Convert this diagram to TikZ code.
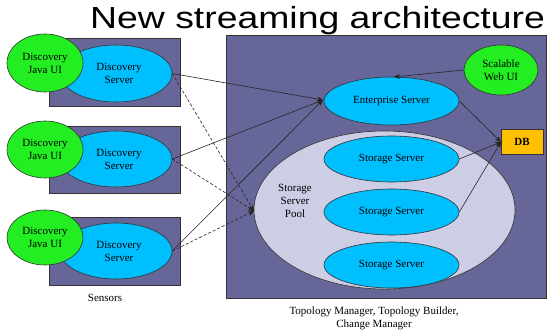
\documentclass[tikz,border=0pt]{standalone}
\usepackage{fontspec}
\setmainfont{Liberation Serif}
\newfontfamily\titlefont{Liberation Sans}
\usetikzlibrary{shapes.geometric,arrows.meta}
\definecolor{boxpurple}{HTML}{666699}
\definecolor{uigreen}{HTML}{22EE22}
\definecolor{srvblue}{HTML}{00BFFF}
\definecolor{poolgray}{HTML}{CDCDE6}
\definecolor{dborange}{HTML}{FFC000}
\tikzset{
  sensorbox/.style={draw=black!80, fill=boxpurple, line width=0.6pt},
  uiell/.style={ellipse, draw=black!80, fill=uigreen, inner sep=0pt, line width=0.6pt, align=center, font=\fontsize{11}{13}\selectfont},
  srvell/.style={ellipse, draw=black!80, fill=srvblue, inner sep=0pt, line width=0.6pt, align=center, font=\fontsize{11}{13}\selectfont},
  conn/.style={draw=black!85, line width=0.6pt, -{Stealth[length=6pt,width=5pt]}},
  dconn/.style={conn, dashed, dash pattern=on 3pt off 2pt},
  lbl/.style={align=center, font=\fontsize{11}{13}\selectfont, inner sep=0pt}
}
\begin{document}
\begin{tikzpicture}[x=1pt,y=-1pt]
\useasboundingbox (0,0) rectangle (548,332);
\fill[white] (0,0) rectangle (548,332);
% title
\node[anchor=base west, inner sep=0pt, font=\titlefont\fontsize{30.5}{32}\selectfont] (title) at (90,28) {\scalebox{1.225}[1]{New streaming architecture}};
% sensor boxes
\draw[sensorbox] (49,38) rectangle (180,106);
\draw[sensorbox] (49,126) rectangle (180,193);
\draw[sensorbox] (49,217) rectangle (180,285);
% big rectangle
\draw[sensorbox] (226,35) rectangle (546,298);
% discovery servers
\node[srvell, minimum width=112pt, minimum height=57pt] (ds1) at (116,73.5) {\hspace*{6pt}Discovery\\\hspace*{6pt}Server};
\node[srvell, minimum width=112pt, minimum height=56pt] (ds2) at (116,159) {\hspace*{6pt}Discovery\\\hspace*{6pt}Server};
\node[srvell, minimum width=112pt, minimum height=56pt] (ds3) at (116,251) {\hspace*{6pt}Discovery\\\hspace*{6pt}Server};
% java UIs
\node[uiell, minimum width=76pt, minimum height=58pt] (ju1) at (45,63) {Discovery\\Java UI};
\node[uiell, minimum width=76pt, minimum height=57pt] (ju2) at (45,149.5) {Discovery\\Java UI};
\node[uiell, minimum width=76pt, minimum height=55pt] (ju3) at (45,237.5) {Discovery\\Java UI};
% pool
\node[ellipse, draw=black!80, fill=poolgray, line width=0.6pt, minimum width=261pt, minimum height=158pt, inner sep=0pt] (pool) at (384.5,210) {};
\node[lbl] (poollbl) at (295,201) {Storage\\Server\\Pool};
% servers
\node[srvell, minimum width=135pt, minimum height=48pt] (ent) at (391.5,101) {Enterprise Server};
\node[srvell, minimum width=135pt, minimum height=46pt] (ss1) at (391.5,159) {Storage Server};
\node[srvell, minimum width=135pt, minimum height=46pt] (ss2) at (391.5,212) {Storage Server};
\node[srvell, minimum width=135pt, minimum height=46pt] (ss3) at (391.5,265) {Storage Server};
% web UI
\node[uiell, minimum width=74pt, minimum height=50pt] (web) at (501,70) {Scalable\\Web UI};
% DB
\node[draw=black!80, fill=dborange, line width=0.6pt, minimum width=42pt, minimum height=25pt, inner sep=0pt, font=\bfseries\fontsize{11}{13}\selectfont] (db) at (522,141.5) {DB};
% labels
\node[lbl] (sensors) at (105,298) {Sensors};
\node[lbl] (caption) at (374,318) {Topology Manager, Topology Builder,\\Change Manager};
% connectors
\coordinate (entin) at (323,100);
\coordinate (poolin) at (254,211);
\coordinate (enttop) at (394,77);
\coordinate (dbin) at (501,142);
\draw[conn] (ds1.east) -- (entin);
\draw[conn] (ds2.east) -- (entin);
\draw[conn] (ds3.east) -- (entin);
\draw[dconn] (ds1.east) -- (poolin);
\draw[dconn] (ds2.east) -- (poolin);
\draw[dconn] (ds3.east) -- (poolin);
\draw[conn] (web.west) -- (enttop);
\draw[conn] (ent.east) -- (dbin);
\draw[conn] (ss1.east) -- (dbin);
\draw[conn] (ss2.east) -- (dbin);
\end{tikzpicture}
\end{document}
